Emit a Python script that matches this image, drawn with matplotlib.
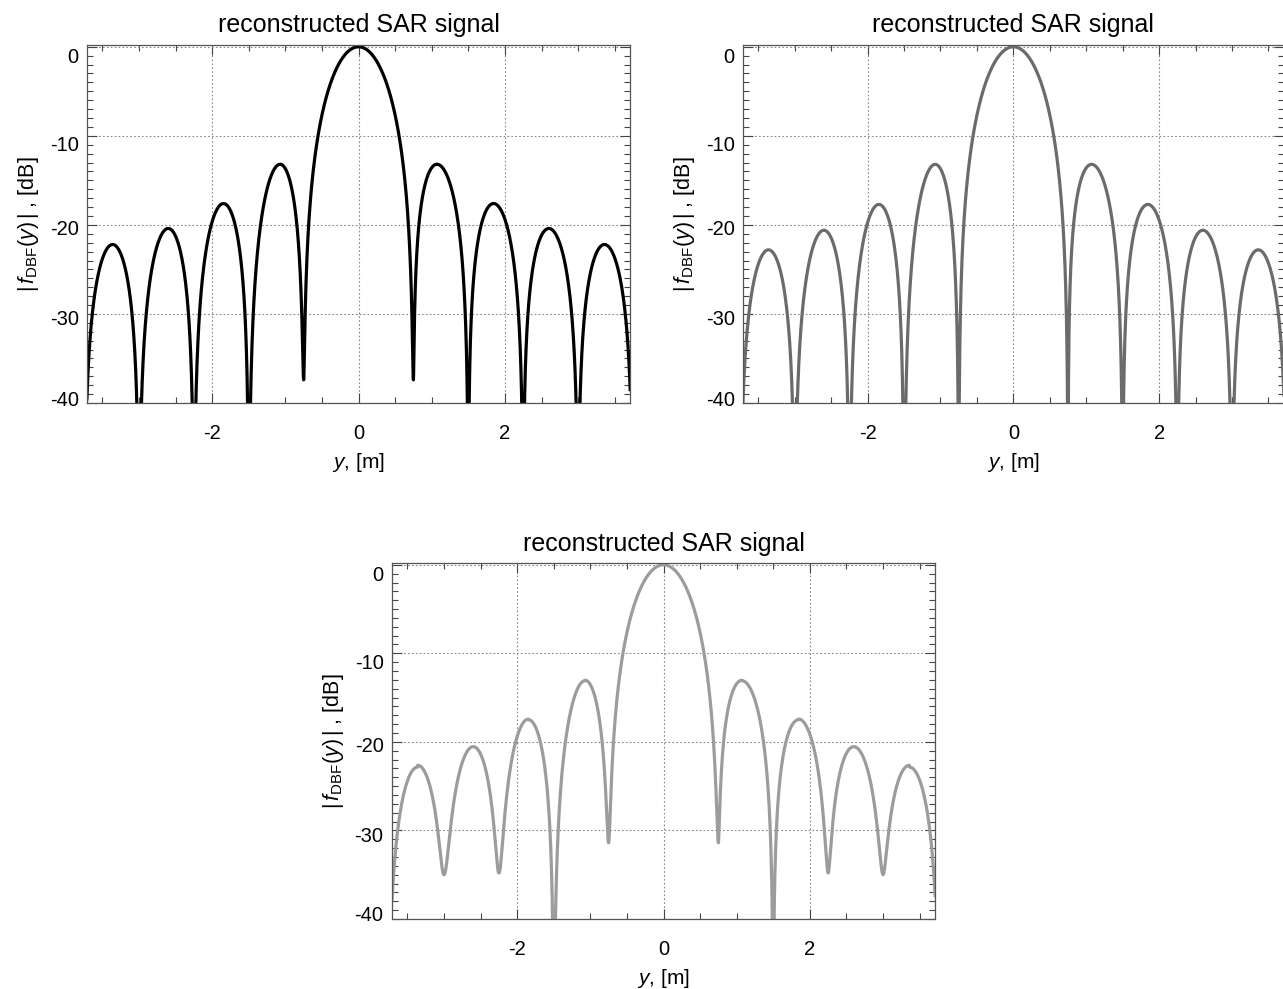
import numpy as np
import matplotlib
matplotlib.use("Agg")
import matplotlib.pyplot as plt
from matplotlib.ticker import MultipleLocator
from matplotlib.transforms import ScaledTranslation

# values
NULLS_Y = [-3.75, -3.0, -2.25, -1.5, -0.75, 0.75, 1.5, 2.25, 3.0, 3.75]
SIDE_PEAK_Y = [-3.36, -2.60, -1.845, -1.073, 1.073, 1.845, 2.60, 3.36]
MAIN_PEAK_DB = 0.0

P1_PEAKS_DB = [-22.2, -20.4, -17.6, -13.2, -13.2, -17.6, -20.4, -22.2]
P2_PEAKS_DB = [-22.8, -20.6, -17.7, -13.2, -13.2, -17.7, -20.6, -22.8]
P3_PEAKS_DB = [-22.9, -20.7, -17.5, -13.1, -13.1, -17.5, -20.7, -22.9]

P1_FLOOR_DB = [-80, -80, -80, -80, -37.4, -37.4, -80, -80, -80, -80]
P2_FLOOR_DB = [-80, -80, -80, -80, -80, -80, -80, -80, -80, -80]
P3_FLOOR_DB = [-42, -35.0, -34.8, -80, -31.4, -31.4, -80, -34.8, -35.0, -42]

COLORS = ["#000000", "#6b6b6b", "#9c9c9c"]
TITLE = "reconstructed SAR signal"
XLABEL = r"$y$, [m]"
YLABEL = r"$|\,f_{\rm DBF}(y)\,|$ , [dB]"

plt.rcParams["font.family"] = ["Liberation Sans", "DejaVu Sans"]
plt.rcParams["mathtext.fontset"] = "custom"
plt.rcParams["mathtext.rm"] = "Liberation Sans"
plt.rcParams["mathtext.it"] = "Liberation Sans:italic"
plt.rcParams["axes.unicode_minus"] = False


def lobe(x, a, b, p, peak_db, fa_db, fb_db, main=False):
    # draw one lobe between two read nulls a, b with its read peak (p, peak_db)
    t = np.clip((x - a) / (b - a), 0, 1)
    if main:
        s = np.abs(np.sinc((x - p) / ((b - a) / 2)))
    else:
        tp = (p - a) / (b - a)
        k = np.log(0.5) / np.log(tp)
        s = np.abs(np.sin(np.pi * t ** k))
    amp = 10 ** (peak_db / 20) * s
    fl = np.where(x < p, 10 ** (fa_db / 20), 10 ** (fb_db / 20))
    return 20 * np.log10(np.sqrt(amp ** 2 + fl ** 2))


def build_curve(peaks, floors):
    xs, ys = [], []
    n = len(NULLS_Y)
    for i in range(n - 1):
        a, b = NULLS_Y[i], NULLS_Y[i + 1]
        x = np.linspace(a, b, 600)
        if a < 0 < b:
            y = lobe(x, a, b, 0.0, MAIN_PEAK_DB, floors[i], floors[i + 1], main=True)
        else:
            j = i if b <= 0 else i - 1
            y = lobe(x, a, b, SIDE_PEAK_Y[j], peaks[j], floors[i], floors[i + 1])
        xs.append(x)
        ys.append(y)
    return np.concatenate(xs), np.concatenate(ys)


def style_axes(ax):
    ax.set_xlim(-3.71, 3.71)
    ax.set_ylim(-40, 0.2)
    ax.set_xticks([-2, 0, 2])
    ax.set_yticks([0, -10, -20, -30, -40])
    ax.xaxis.set_minor_locator(MultipleLocator(0.5))
    ax.yaxis.set_minor_locator(MultipleLocator(1))
    ax.tick_params(which="both", direction="in", top=True, right=True,
                   labelsize=14.5, color="#444444")
    ax.tick_params(which="major", length=7, width=0.8)
    ax.tick_params(which="minor", length=4.5, width=0.8)
    ax.tick_params(axis="x", which="major", pad=15)
    ax.tick_params(axis="y", which="major", pad=6)
    for sp in ax.spines.values():
        sp.set_color("#555555")
        sp.set_linewidth(0.9)
    ax.grid(True, which="major", linestyle=(0, (1.5, 2)), color="#888888", linewidth=0.8)
    ax.set_title(TITLE, fontsize=18, pad=9)
    ax.set_xlabel(XLABEL, fontsize=15, labelpad=6)
    ax.set_ylabel(YLABEL, fontsize=15.5, labelpad=6)
    # idl puts the y labels a bit off their ticks
    offs = [-9, -8, -3, -4, 5]
    for lab, dy in zip(ax.get_yticklabels(), offs):
        lab.set_transform(lab.get_transform() + ScaledTranslation(0, dy / 100, ax.figure.dpi_scale_trans))


fig = plt.figure(figsize=(12.83, 9.89), dpi=100)
positions = [
    [0.0678, 0.5925, 0.4233, 0.3620],
    [0.5791, 0.5925, 0.4215, 0.3620],
    [0.3055, 0.0708, 0.4233, 0.3599],
]
series = [(P1_PEAKS_DB, P1_FLOOR_DB), (P2_PEAKS_DB, P2_FLOOR_DB), (P3_PEAKS_DB, P3_FLOOR_DB)]

for pos, (pk, fl), col in zip(positions, series, COLORS):
    ax = fig.add_axes(pos)
    x, y = build_curve(pk, fl)
    ax.plot(x, y, color=col, linewidth=2.3, solid_joinstyle="round")
    style_axes(ax)

fig.savefig("out.png", dpi=100)
